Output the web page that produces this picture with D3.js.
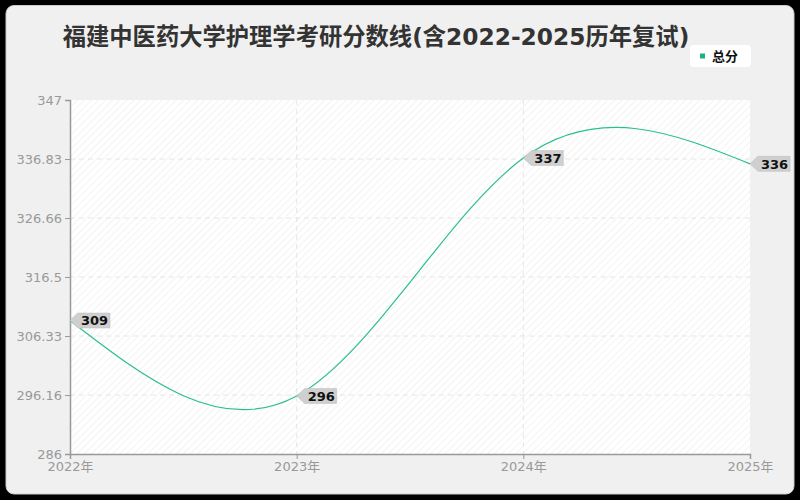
<!DOCTYPE html>
<html><head><meta charset="utf-8">
<script src="https://cdn.jsdelivr.net/npm/d3@7/dist/d3.min.js"></script>
<style>
html,body{margin:0;padding:0;background:#000;}
svg{display:block;}
text{font-family:"DejaVu Sans","Noto Sans CJK SC",sans-serif;}
</style></head>
<body>
<svg id="c" width="800" height="500"></svg>
<script>
const title = "福建中医药大学护理学考研分数线(含2022-2025历年复试)";
const years = ["2022年","2023年","2024年","2025年"];
const seriesName = "总分";
const values = [309, 296, 337, 336];
const yTicks = [286, 296.16, 306.33, 316.5, 326.66, 336.83, 347];

const svg = d3.select("#c");
const W = 800, H = 500;
const m = {l:70, r:50, t:100, b:46};

const defs = svg.append("defs");
const pat = defs.append("pattern").attr("id","hatch").attr("patternUnits","userSpaceOnUse")
  .attr("width",5).attr("height",5).attr("patternTransform","rotate(45)");
pat.append("rect").attr("width",5).attr("height",5).attr("fill","#fff");
pat.append("line").attr("x1",0).attr("y1",0).attr("x2",0).attr("y2",5)
  .attr("stroke","#f3f3f3").attr("stroke-width",2);

svg.append("rect").attr("x",6).attr("y",5.5).attr("width",788).attr("height",488.5)
  .attr("rx",8).attr("fill","#f0f0f0").attr("stroke","#ccc").attr("stroke-width",1);

const x = d3.scalePoint().domain(years).range([m.l, W-m.r]);
const y = d3.scaleLinear().domain([286,347]).range([H-m.b, m.t]);

svg.append("rect").attr("x",m.l).attr("y",m.t).attr("width",W-m.r-m.l).attr("height",H-m.b-m.t)
  .attr("fill","url(#hatch)");

// grid
svg.append("g").selectAll("line").data(yTicks.slice(1,-1)).join("line")
  .attr("x1",m.l).attr("x2",W-m.r).attr("y1",d=>y(d)).attr("y2",d=>y(d))
  .attr("stroke","#e6e6e6").attr("stroke-dasharray","5,4");
svg.append("g").selectAll("line").data(years.slice(1,-1)).join("line")
  .attr("x1",d=>x(d)).attr("x2",d=>x(d)).attr("y1",m.t).attr("y2",H-m.b)
  .attr("stroke","#e6e6e6").attr("stroke-dasharray","5,4");

// axes
const yAxis = d3.axisLeft(y).tickValues(yTicks).tickFormat(d=>String(d)).tickSize(5).tickPadding(3);
const gy = svg.append("g").attr("transform",`translate(${m.l},0)`).call(yAxis);
gy.select(".domain").attr("stroke","#999").attr("stroke-width",1.5);
gy.selectAll(".tick line").attr("stroke","#999");
gy.selectAll("text").attr("fill","#999").attr("font-size",13);

const xAxis = d3.axisBottom(x).tickSize(5).tickPadding(3);
const gx = svg.append("g").attr("transform",`translate(0,${H-m.b})`).call(xAxis);
gx.select(".domain").attr("stroke","#999").attr("stroke-width",1.5);
gx.selectAll(".tick line").attr("stroke","#999");
gx.selectAll("text").attr("fill","#999").attr("font-size",13);

// line
const line = d3.line().x((d,i)=>x(years[i])).y(d=>y(d)).curve(d3.curveNatural);
svg.append("path").datum(values).attr("d",line).attr("fill","none")
  .attr("stroke","#2bbf8e").attr("stroke-width",1.2);

// labels
const lg = svg.append("g").selectAll("g").data(values).join("g")
  .attr("transform",(d,i)=>`translate(${x(years[i])},${y(d)})`);
lg.append("path").attr("d","M0,0 L8,-7.5 L40,-7.5 L40,7.5 L8,7.5 Z")
  .attr("fill","#cfcfcf").attr("stroke","#bbb").attr("stroke-width",0.5);
lg.append("text").attr("x",11).attr("y",0).attr("dy","0.36em").attr("font-size",13)
  .attr("font-weight","bold").attr("fill","#111").text(d=>d);

// title
svg.append("text").attr("x",376).attr("y",45).attr("text-anchor","middle")
  .attr("font-family","'Noto Sans CJK SC',sans-serif")
  .attr("font-size",23.3).attr("font-weight","bold").attr("fill","#333").text(title);

// legend
svg.append("rect").attr("x",690).attr("y",45).attr("width",61).attr("height",22).attr("rx",4)
  .attr("fill","#fff");
svg.append("rect").attr("x",700).attr("y",53.5).attr("width",5).attr("height",5).attr("fill","#1db37e");
svg.append("text").attr("x",712).attr("y",56).attr("dy","0.36em").attr("font-size",13)
  .attr("font-family","'Noto Sans CJK SC',sans-serif")
  .attr("font-weight","bold").attr("fill","#111").text(seriesName);
</script>
</body></html>
